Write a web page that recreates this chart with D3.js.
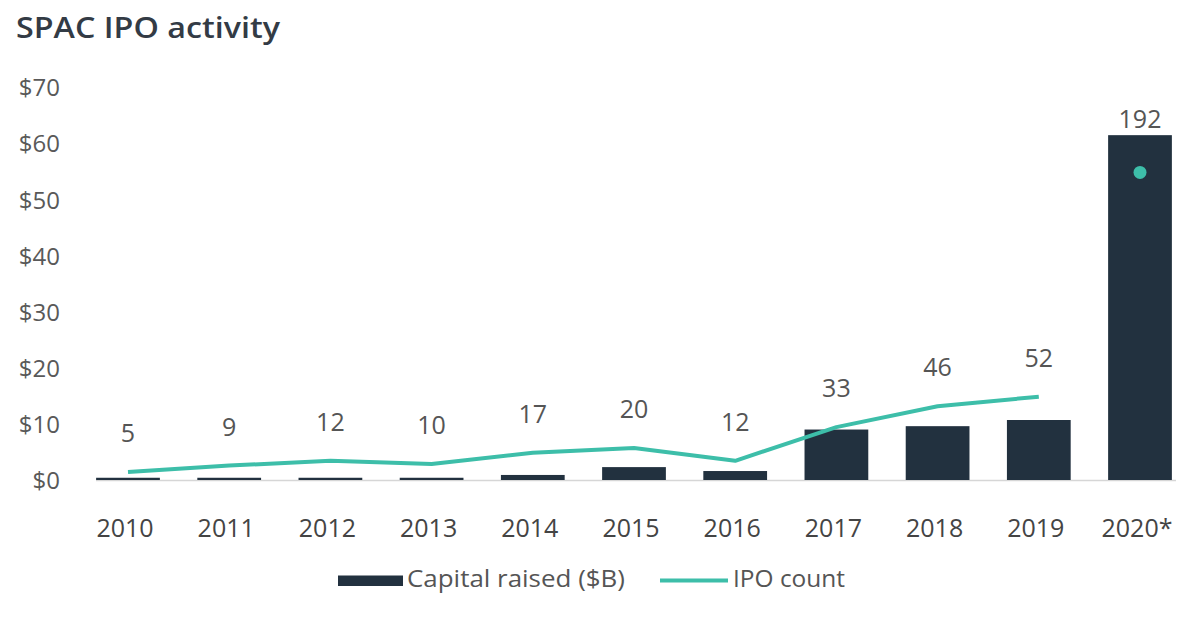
<!DOCTYPE html>
<html><head><meta charset="utf-8">
<script src="https://cdn.jsdelivr.net/npm/d3@7"></script>
<style>
body{margin:0;background:#fff;}
text{font-family:"Open Sans",sans-serif;}
</style></head>
<body><svg id="c" width="1200" height="618"></svg>
<script>
const years = ["2010","2011","2012","2013","2014","2015","2016","2017","2018","2019","2020*"];
const capital = [0.4,0.4,0.4,0.4,0.9,2.3,1.6,9.0,9.6,10.7,61.5];
const ipoCount = [5,9,12,10,17,20,12,33,46,52,192];
const yTicks = [0,10,20,30,40,50,60,70];

const svg = d3.select("#c");
const x = d3.scaleBand().domain(years).range([77.4,1190.6]).paddingInner(0.37).paddingOuter(0.185);
const y = d3.scaleLinear().domain([0,70]).range([480,87.5]);
const y2 = d3.scaleLinear().domain([0,245]).range([480,87.5]);

svg.append("text").attr("x",16).attr("y",38).text("SPAC IPO activity")
  .attr("textLength",264).attr("lengthAdjust","spacingAndGlyphs")
  .style("font-weight","600").style("font-size","28px").attr("fill","#333b45");

// y axis
const ya = svg.append("g").attr("transform","translate(60,0)")
  .call(d3.axisLeft(y).tickValues(yTicks).tickFormat(d=>"$"+d).tickSize(0).tickPadding(0));
ya.select(".domain").remove();
ya.selectAll("text").style("font-size","24px").attr("fill","#595959").attr("dy","0.35em");

// baseline
svg.append("line").attr("x1",96).attr("x2",1176).attr("y1",y(0)+0.5).attr("y2",y(0)+0.5).attr("stroke","#d6d6d6").attr("stroke-width",1.5);

// bars
svg.selectAll("rect.bar").data(years).enter().append("rect").attr("class","bar")
  .attr("x",d=>x(d)).attr("width",x.bandwidth())
  .attr("y",(d,i)=>y(capital[i])).attr("height",(d,i)=>y(0)-y(capital[i]))
  .attr("fill","#22313f");

// x axis
const xa = svg.append("g").attr("transform","translate(0,"+(y(0))+")")
  .call(d3.axisBottom(x).tickSize(0).tickPadding(0));
xa.select(".domain").remove();
xa.selectAll("text").style("font-size","25px").attr("fill","#444").attr("dy","0").attr("y",57).attr("dx","-3");

// line
const cx = d => x(d)+x.bandwidth()/2;
const lineData = years.slice(0,10).map((d,i)=>[cx(d),y2(ipoCount[i])]);
svg.append("path").attr("d",d3.line()(lineData)).attr("fill","none").attr("stroke","#3dbea9").attr("stroke-width",4).attr("stroke-linejoin","round");
svg.append("circle").attr("cx",cx(years[10])).attr("cy",y2(ipoCount[10])).attr("r",6.5).attr("fill","#3dbea9");

// labels
svg.selectAll("text.lab").data(years).enter().append("text").attr("class","lab")
  .attr("x",d=>cx(d)).attr("y",(d,i)=> i===10 ? y(capital[i])-7 : y2(ipoCount[i])-30)
  .attr("text-anchor","middle").style("font-size","25px").attr("fill","#555")
  .text((d,i)=>ipoCount[i]);

// legend
const lg = svg.append("g");
lg.append("rect").attr("x",338).attr("y",575.5).attr("width",65).attr("height",10.5).attr("fill","#22313f");
lg.append("text").attr("x",407).attr("y",587).style("font-size","23px").attr("fill","#555")
  .attr("textLength",218).attr("lengthAdjust","spacingAndGlyphs").text("Capital raised ($B)");
lg.append("line").attr("x1",660).attr("x2",728).attr("y1",580.5).attr("y2",580.5).attr("stroke","#3dbea9").attr("stroke-width",4);
lg.append("text").attr("x",733).attr("y",587).style("font-size","23px").attr("fill","#555")
  .attr("textLength",112).attr("lengthAdjust","spacingAndGlyphs").text("IPO count");
</script></body></html>
